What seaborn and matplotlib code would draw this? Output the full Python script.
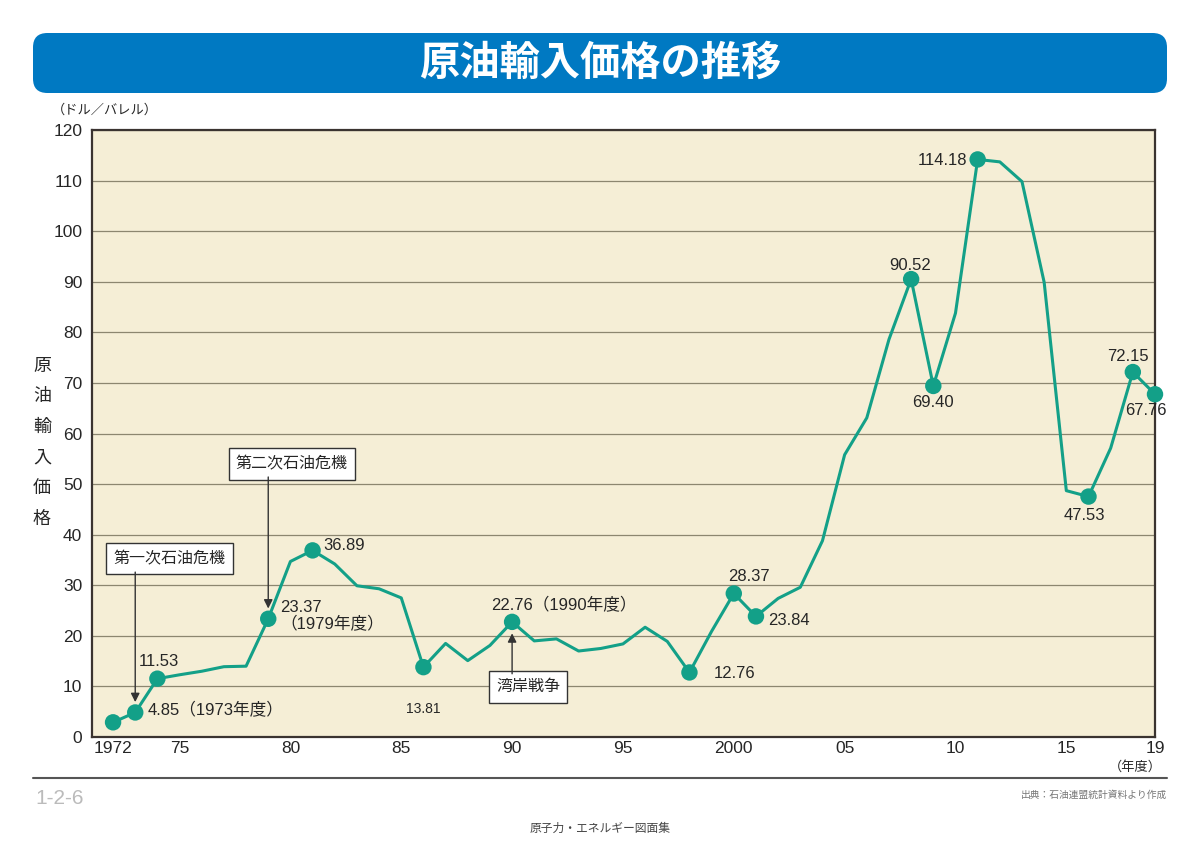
import pandas as pd
import seaborn as sns
import matplotlib.pyplot as plt
from matplotlib.patches import FancyBboxPatch
from matplotlib.lines import Line2D

# 年度と原油輸入価格（ドル／バレル）
years = list(range(1972, 2020))
price = [2.9, 4.85, 11.53, 12.3, 13.0, 13.9, 14.0, 23.37, 34.7, 36.89,
         34.2, 29.9, 29.3, 27.5, 13.81, 18.5, 15.1, 18.1, 22.76, 19.0,
         19.4, 17.0, 17.5, 18.4, 21.7, 18.9, 12.76, 20.9, 28.37, 23.84,
         27.4, 29.6, 38.8, 55.8, 63.1, 78.6, 90.52, 69.40, 83.8, 114.18,
         113.7, 109.8, 89.9, 48.7, 47.53, 57.1, 72.15, 67.76]
marked_years = [1972, 1973, 1974, 1979, 1981, 1986, 1990, 1998, 2000, 2001,
                2008, 2009, 2011, 2016, 2018, 2019]
tick_years = [1972, 1975, 1980, 1985, 1990, 1995, 2000, 2005, 2010, 2015, 2019]
tick_labels = ['1972', '75', '80', '85', '90', '95', '2000', '05', '10', '15', '19']

df = pd.DataFrame({'year': years, 'price': price})
marked = df[df['year'].isin(marked_years)]

sns.set_style('white')
plt.rcParams['font.family'] = ['Liberation Sans', 'Noto Sans CJK JP']
jp = ['Noto Sans CJK JP', 'DejaVu Sans']

teal = '#13A088'
fig = plt.figure(figsize=(12, 8.48), dpi=100)
ax = fig.add_axes([92 / 1200, 1 - 737 / 848, (1155 - 92) / 1200, (737 - 130) / 848])
ax.set_facecolor('#F5EED6')

sns.lineplot(data=df, x='year', y='price', ax=ax, color=teal, linewidth=2.2, zorder=3)
sns.scatterplot(data=marked, x='year', y='price', ax=ax, color=teal, s=140,
                edgecolor='none', zorder=4, clip_on=False)

ax.set_xlim(1971.05, 2019)
ax.set_ylim(0, 120)
ax.set_yticks(range(0, 121, 10))
ax.set_xticks(tick_years)
ax.set_xticklabels(tick_labels)
ax.set_xticks(years, minor=True)
ax.tick_params(axis='x', which='both', direction='in', length=11, color='#777777',
               width=1, labelsize=12.5, pad=3)
ax.tick_params(axis='y', length=0, labelsize=12.5, pad=7)
ax.grid(axis='y', color='#8C8670', linewidth=0.9)
ax.set_axisbelow(True)
ax.set_xlabel('')
ax.set_ylabel('')
for s in ax.spines.values():
    s.set_color('#3A3330')
    s.set_linewidth(1.6)

# 数値ラベル
fs = 12
ax.text(1973.55, 5.3, '4.85（1973年度）', fontsize=fs, ha='left', va='center')
ax.text(1974.05, 14.9, '11.53', fontsize=fs, ha='center', va='center')
ax.text(1979.55, 23.9, '23.37\n（1979年度）', fontsize=fs, ha='left', va='center', linespacing=1.05)
ax.text(1981.5, 37.9, '36.89', fontsize=fs, ha='left', va='center')
ax.text(1986.0, 5.6, '13.81', fontsize=10, ha='center', va='center')
ax.text(1989.05, 26.1, '22.76（1990年度）', fontsize=fs, ha='left', va='center')
ax.text(1999.1, 12.6, '12.76', fontsize=fs, ha='left', va='center')
ax.text(2000.7, 31.8, '28.37', fontsize=fs, ha='center', va='center')
ax.text(2001.55, 23.0, '23.84', fontsize=fs, ha='left', va='center')
ax.text(2007.97, 93.2, '90.52', fontsize=fs, ha='center', va='center')
ax.text(2008.97, 66.2, '69.40', fontsize=fs, ha='center', va='center')
ax.text(2010.55, 113.9, '114.18', fontsize=fs, ha='right', va='center')
ax.text(2015.8, 43.8, '47.53', fontsize=fs, ha='center', va='center')
ax.text(2017.77, 75.3, '72.15', fontsize=fs, ha='center', va='center')
ax.text(2018.6, 64.6, '67.76', fontsize=fs, ha='center', va='center')

# 出来事の注記
box = dict(boxstyle='square,pad=0.45', facecolor='white', edgecolor='#333333', linewidth=1)
arrow = dict(arrowstyle='-|>', color='#333333', lw=1, mutation_scale=13, shrinkA=0, shrinkB=0)
ax.text(1974.55, 35.3, '第一次石油危機', fontsize=11.5, family=jp, ha='center', va='center', bbox=box)
ax.annotate('', xy=(1973, 6.9), xytext=(1973, 32.6), arrowprops=arrow)
ax.text(1980.07, 54.0, '第二次石油危機', fontsize=11.5, family=jp, ha='center', va='center', bbox=box)
ax.annotate('', xy=(1979, 25.4), xytext=(1979, 51.4), arrowprops=arrow)
ax.text(1990.73, 9.9, '湾岸戦争', fontsize=11.5, family=jp, ha='center', va='center', bbox=box)
ax.annotate('', xy=(1990, 20.5), xytext=(1990, 12.5), arrowprops=arrow)

# タイトル帯
fig.patches.append(FancyBboxPatch((33 / 1200, 1 - 93 / 848), 1134 / 1200, 60 / 848,
                                  boxstyle='round,pad=0,rounding_size=0.012',
                                  mutation_aspect=1200 / 848, transform=fig.transFigure,
                                  facecolor='#0079C2', edgecolor='none'))
fig.text(0.5, 1 - 63 / 848, '原油輸入価格の推移', color='white', fontsize=29, family=jp,
         fontweight='bold', ha='center', va='center')

fig.text(52 / 1200, 1 - 110 / 848, '（ドル／バレル）', fontsize=9.5, family=jp, ha='left', va='center')
fig.text(42 / 1200, 1 - 442 / 848, '原\n油\n輸\n入\n価\n格', fontsize=13, family=jp,
         ha='center', va='center', linespacing=1.9)
fig.text(1135 / 1200, 1 - 767 / 848, '（年度）', fontsize=9.5, family=jp, ha='center', va='center')

fig.lines.append(Line2D([33 / 1200, 1167 / 1200], [1 - 778 / 848] * 2,
                        transform=fig.transFigure, color='#555555', linewidth=1.5))
fig.text(35 / 1200, 1 - 798 / 848, '1-2-6', fontsize=15, color='#BBBBBB', ha='left', va='center')
fig.text(1167 / 1200, 1 - 795 / 848, '出典：石油連盟統計資料より作成', fontsize=7, family=jp,
         color='#777777', ha='right', va='center')
fig.text(0.5, 1 - 828 / 848, '原子力・エネルギー図面集', fontsize=8.5, family=jp, color='#444444',
         ha='center', va='center')

fig.savefig('out.png', dpi=100)
